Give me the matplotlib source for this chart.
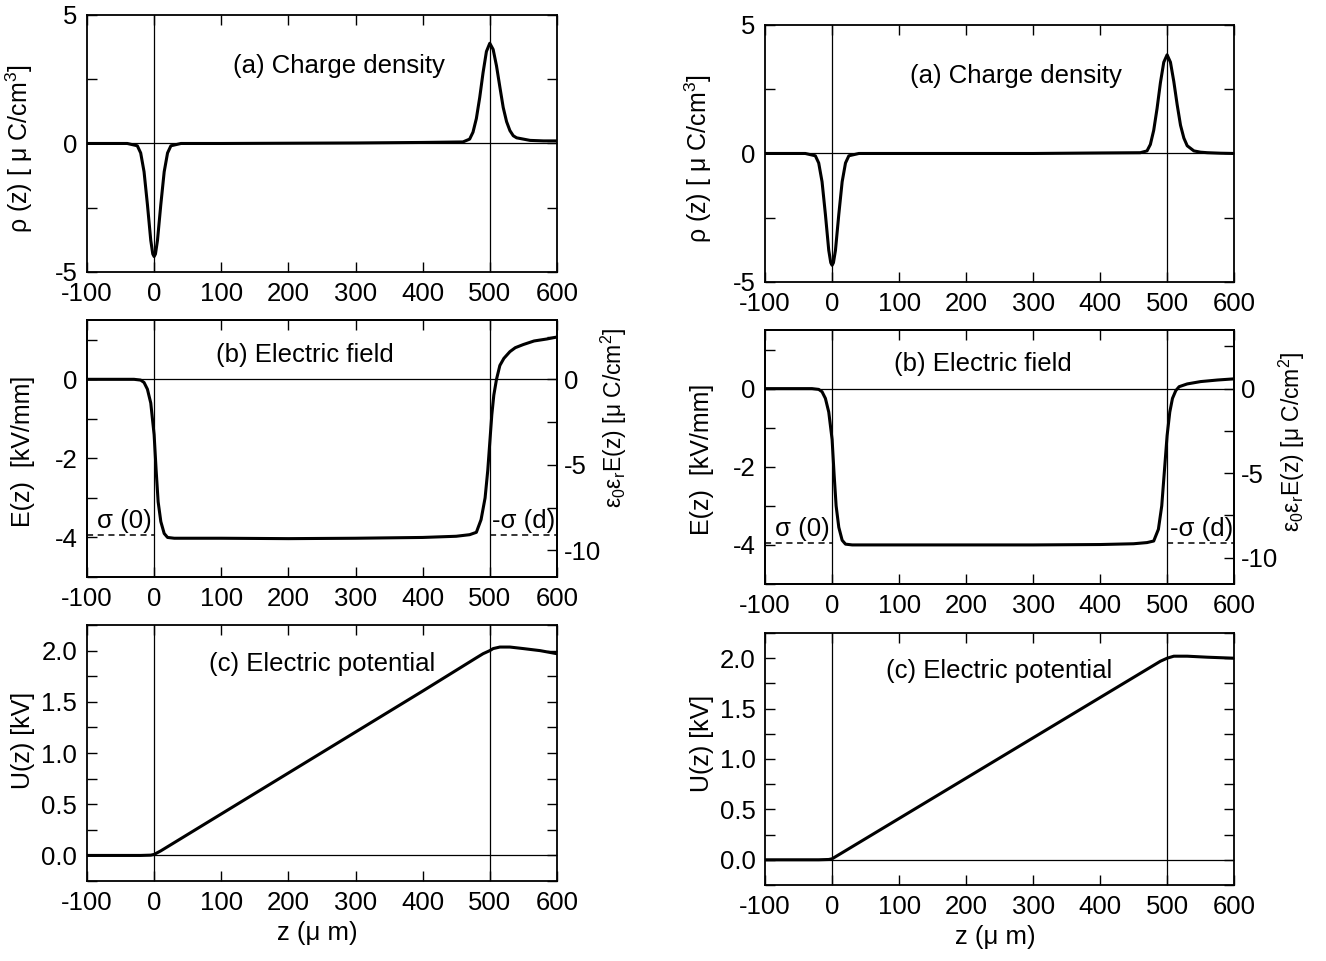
import matplotlib
matplotlib.use('Agg')
import matplotlib.pyplot as plt
from matplotlib.ticker import MultipleLocator, FormatStrFormatter

plt.rcParams['font.family'] = ['Liberation Sans', 'DejaVu Sans']
plt.rcParams['mathtext.fontset'] = 'custom'
plt.rcParams['mathtext.rm'] = 'Liberation Sans'
plt.rcParams['mathtext.it'] = 'Liberation Sans'
plt.rcParams['axes.unicode_minus'] = False

# ---- data ----
# (a) charge density
rho_z_L = [-100, -40, -25, -20, -15, -10, -5, -2, 0, 2, 5, 10, 15, 20, 25, 40, 100, 200, 300, 400,
           460, 470, 475, 480, 485, 490, 495, 500, 505, 510, 515, 520, 525, 530, 535, 540, 550, 560, 580, 600]
rho_L = [0, 0, -0.09, -0.37, -1.1, -2.37, -3.77, -4.3, -4.4, -4.3, -3.77, -2.37, -1.1, -0.37, -0.09, 0, 0, 0.01, 0.02, 0.04,
         0.06, 0.17, 0.44, 0.97, 1.79, 2.76, 3.58, 3.9, 3.66, 3.02, 2.2, 1.4, 0.85, 0.5, 0.3, 0.22, 0.17, 0.12, 0.1, 0.1]
rho_z_R = [-100, -40, -25, -20, -15, -10, -5, -2, 0, 2, 5, 10, 15, 20, 25, 40, 100, 200, 300, 400,
           460, 470, 475, 480, 485, 490, 495, 500, 505, 510, 515, 520, 525, 530, 540, 550, 560, 580, 600]
rho_R = [0, 0, -0.09, -0.37, -1.1, -2.37, -3.77, -4.25, -4.35, -4.25, -3.77, -2.37, -1.1, -0.37, -0.09, 0, 0, 0, 0, 0.02,
         0.03, 0.1, 0.35, 0.9, 1.75, 2.75, 3.55, 3.84, 3.55, 2.8, 1.9, 1.1, 0.6, 0.3, 0.1, 0.05, 0.03, 0.01, 0]

# (b) electric field
E_z_L = [-100, -30, -20, -15, -10, -5, 0, 3, 6, 10, 15, 20, 30, 100, 200, 300, 400, 450, 470,
         480, 487, 493, 497, 500, 503, 506, 510, 515, 521, 530, 538, 550, 566, 585, 600]
E_L = [0, 0, -0.02, -0.08, -0.25, -0.6, -1.4, -2.3, -3.1, -3.6, -3.9, -4.0, -4.02, -4.02, -4.03, -4.02, -4.0, -3.97, -3.93,
       -3.87, -3.55, -3.0, -2.3, -1.6, -0.9, -0.4, 0.0, 0.35, 0.53, 0.7, 0.8, 0.88, 0.97, 1.02, 1.07]
E_z_R = [-100, -30, -20, -15, -10, -5, 0, 3, 6, 10, 15, 20, 30, 100, 200, 300, 400, 450, 470,
         480, 487, 492, 496, 500, 504, 508, 513, 518, 530, 550, 575, 600]
E_R = [0, 0, -0.02, -0.08, -0.25, -0.6, -1.3, -2.2, -3.0, -3.55, -3.88, -3.98, -4.0, -4.0, -4.0, -4.0, -3.99, -3.97, -3.94,
       -3.9, -3.6, -3.0, -2.1, -1.2, -0.6, -0.25, -0.05, 0.05, 0.12, 0.18, 0.22, 0.25]
sigma_level = -3.95
E_to_D = 2.31  # kV/mm -> uC/cm^2 on the right axis

# (c) electric potential
U_z_L = [-100, -20, -5, 0, 10, 20, 100, 200, 300, 400, 480, 490, 500, 505, 515, 530, 550, 575, 600]
U_L = [0, 0, 0.003, 0.01, 0.045, 0.085, 0.405, 0.805, 1.205, 1.605, 1.93, 1.97, 2.0, 2.02, 2.035, 2.035, 2.02, 2.0, 1.97]
U_z_R = [-100, -20, -5, 0, 10, 20, 100, 200, 300, 400, 480, 490, 500, 510, 530, 560, 600]
U_R = [0, 0, 0.003, 0.01, 0.05, 0.09, 0.41, 0.81, 1.21, 1.61, 1.93, 1.97, 2.0, 2.02, 2.02, 2.01, 2.0]

x_ticks = [-100, 0, 100, 200, 300, 400, 500, 600]

FS_TICK = 18.5
FS_TXT = 18.5
FS_YLAB = 18
FS_RLAB = 16.5

fig = plt.figure(figsize=(13.26, 9.61), dpi=100)

cols = {
    'L': dict(x=0.0656, w=0.3544, rows=[(0.717, 0.2674), (0.3996, 0.2674), (0.0832, 0.2664)],
              rlab=(1.09, 0.62), ylab_y=(0.48, 0.49, 0.55), xlab=(0.49, -0.156)),
    'R': dict(x=0.577, w=0.3537, rows=[(0.7066, 0.2674), (0.3923, 0.2643), (0.0791, 0.2622)],
              rlab=(1.09, 0.56), ylab_y=(0.48, 0.49, 0.56), xlab=(0.49, -0.159)),
}
series = {
    'L': dict(rho=(rho_z_L, rho_L), E=(E_z_L, E_L), U=(U_z_L, U_L)),
    'R': dict(rho=(rho_z_R, rho_R), E=(E_z_R, E_R), U=(U_z_R, U_R)),
}


def style(ax):
    ax.set_xlim(-100, 600)
    ax.set_xticks(x_ticks)
    ax.tick_params(which='both', direction='in', top=True, right=True, labelsize=FS_TICK, pad=7)
    ax.tick_params(which='both', length=7, width=1)
    for s in ax.spines.values():
        s.set_linewidth(1.3)
    ax.axvline(0, color='black', lw=0.9)
    ax.axvline(500, color='black', lw=0.9)
    ax.axhline(0, color='black', lw=0.9)


for key, c in cols.items():
    d = series[key]
    # (a)
    b, h = c['rows'][0]
    ax = fig.add_axes([c['x'], b, c['w'], h])
    style(ax)
    ax.plot(*d['rho'], color='black', lw=2.2)
    ax.set_ylim(-5, 5)
    ax.set_yticks([-5, 0, 5])
    ax.yaxis.set_minor_locator(MultipleLocator(2.5))
    ax.set_ylabel('ρ (z) [ μ C/cm$^3$]', fontsize=FS_YLAB)
    ax.yaxis.set_label_coords(-0.11, c['ylab_y'][0])
    ax.text(275, 3.0, '(a) Charge density', fontsize=FS_TXT, ha='center', va='center')

    # (b)
    b, h = c['rows'][1]
    ax = fig.add_axes([c['x'], b, c['w'], h])
    style(ax)
    ax.tick_params(right=False, which='both')
    ax.plot(*d['E'], color='black', lw=2.2)
    ax.plot([-100, 0], [sigma_level, sigma_level], color='black', lw=1.1, ls=(0, (4, 3)))
    ax.plot([500, 600], [sigma_level, sigma_level], color='black', lw=1.1, ls=(0, (4, 3)))
    ax.set_ylim(-5, 1.5)
    ax.set_yticks([-4, -2, 0])
    ax.yaxis.set_minor_locator(MultipleLocator(1))
    ax.set_ylabel('E(z)  [kV/mm]', fontsize=FS_YLAB)
    ax.yaxis.set_label_coords(-0.11, c['ylab_y'][1])
    ax.text(225, 0.62, '(b) Electric field', fontsize=FS_TXT, ha='center', va='center')
    ax.text(-4, -3.58, 'σ (0)', fontsize=FS_TXT, ha='right', va='center')
    ax.text(504, -3.58, '-σ (d)', fontsize=FS_TXT, ha='left', va='center')
    ax2 = ax.twinx()
    ax2.set_ylim(-5 * E_to_D, 1.5 * E_to_D)
    ax2.set_yticks([-10, -5, 0])
    ax2.yaxis.set_minor_locator(MultipleLocator(2.5))
    ax2.tick_params(which='both', direction='in', length=7, width=1, labelsize=FS_TICK, pad=5)
    for s in ax2.spines.values():
        s.set_linewidth(1.3)
    ax2.set_ylabel('ε$_0$ε$_r$E(z) [μ C/cm$^2$]', fontsize=FS_RLAB)
    ax2.yaxis.set_label_coords(*c['rlab'])

    # (c)
    b, h = c['rows'][2]
    ax = fig.add_axes([c['x'], b, c['w'], h])
    style(ax)
    ax.plot(*d['U'], color='black', lw=2.2)
    ax.set_ylim(-0.25, 2.25)
    ax.set_yticks([0.0, 0.5, 1.0, 1.5, 2.0])
    ax.yaxis.set_major_formatter(FormatStrFormatter('%.1f'))
    ax.yaxis.set_minor_locator(MultipleLocator(0.25))
    ax.set_ylabel('U(z) [kV]', fontsize=FS_YLAB)
    ax.yaxis.set_label_coords(-0.11, c['ylab_y'][2])
    ax.text(250, 1.87, '(c) Electric potential', fontsize=FS_TXT, ha='center', va='center')
    ax.set_xlabel('z (μ m)', fontsize=FS_TXT)
    ax.xaxis.set_label_coords(*c['xlab'])

fig.savefig('out.png', dpi=100)
